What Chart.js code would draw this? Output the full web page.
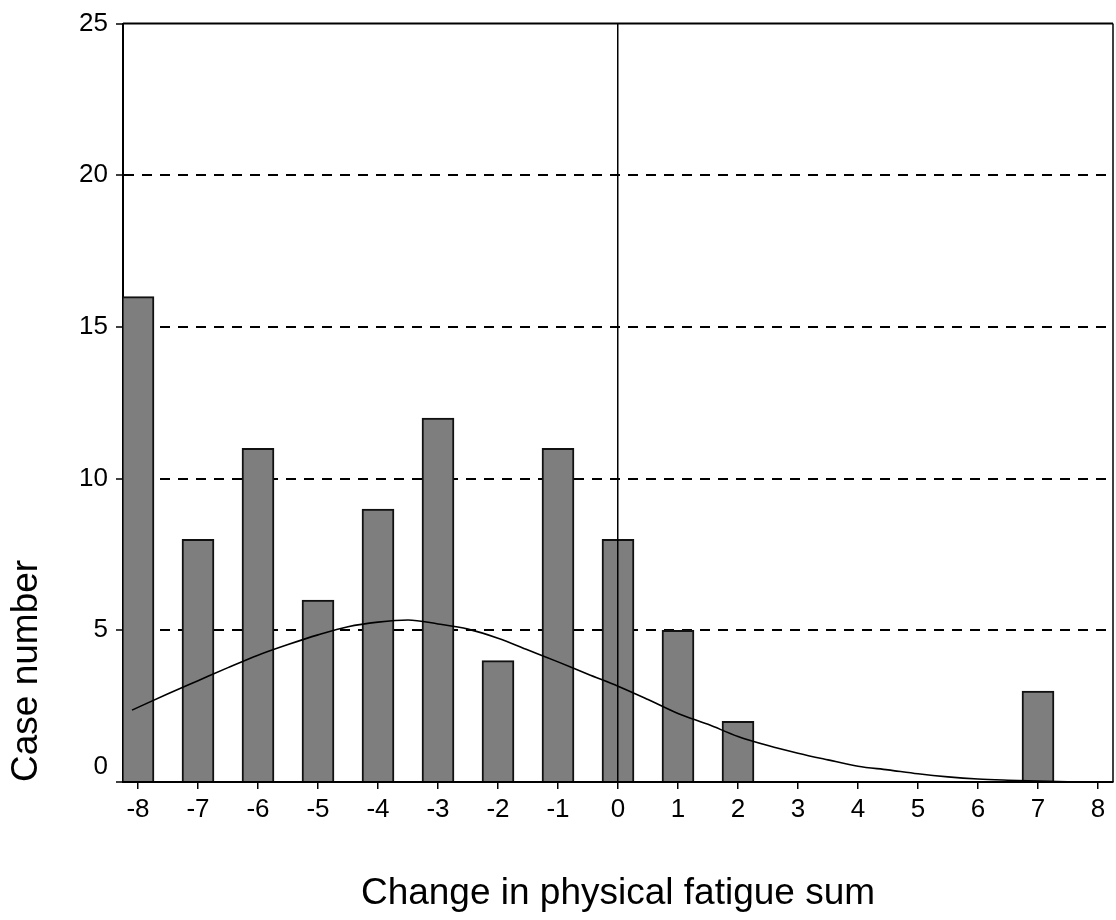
<!DOCTYPE html>
<html>
<head>
<meta charset="utf-8">
<title>Change in physical fatigue sum</title>
<script src="https://cdn.jsdelivr.net/npm/chart.js@4/dist/chart.umd.min.js"></script>
<style>
  html, body { margin: 0; padding: 0; background: #fff; }
  #wrap { width: 1116px; height: 920px; position: relative; }
</style>
</head>
<body>
<div id="wrap"><canvas id="chart"></canvas></div>
<script>
// Histogram: number of cases per change score
const CHANGE_VALUES = [-8, -7, -6, -5, -4, -3, -2, -1, 0, 1, 2, 3, 4, 5, 6, 7, 8];
const CASE_COUNTS   = [16, 8, 11, 6, 9, 12, 4, 11, 8, 5, 2, 0, 0, 0, 0, 3, 0];

// Fitted normal curve, sampled along the x axis
const CURVE_X = [-8.1, -7.5, -7, -6.5, -6, -5.5, -5, -4.5, -4, -3.5, -3, -2.5, -2, -1.5, -1, -0.5,
                 0, 0.5, 1, 1.5, 2, 2.5, 3, 3.5, 4, 4.5, 5, 5.5, 6, 6.5, 7, 7.5, 7.9];
const CURVE_Y = [2.37, 2.91, 3.34, 3.77, 4.18, 4.53, 4.85, 5.12, 5.27, 5.34, 5.21, 5.04, 4.74, 4.35, 3.96, 3.55,
                 3.16, 2.72, 2.26, 1.9, 1.5, 1.2, 0.95, 0.73, 0.52, 0.4, 0.27, 0.17, 0.1, 0.06, 0.03, 0.01, 0.0];

// Axis ticks and titles
const X_TICKS = [-8, -7, -6, -5, -4, -3, -2, -1, 0, 1, 2, 3, 4, 5, 6, 7, 8];
const Y_TICKS = [0, 5, 10, 15, 20, 25];
const X_TITLE = 'Change in physical fatigue sum';
const Y_TITLE = 'Case number';

const FONT = '"Liberation Sans", Arial, Helvetica, sans-serif';

// Solid frame along the top and right edges of the plot area
const framePlugin = {
  id: 'frame',
  afterDraw(chart) {
    const { ctx, chartArea: a } = chart;
    ctx.save();
    ctx.strokeStyle = '#000';
    ctx.lineWidth = 2;
    ctx.beginPath();
    ctx.moveTo(a.left, a.top);
    ctx.lineTo(a.right, a.top);
    ctx.stroke();
    ctx.lineWidth = 1.5;
    ctx.beginPath();
    ctx.moveTo(a.right, a.top);
    ctx.lineTo(a.right, a.bottom);
    ctx.stroke();
    ctx.restore();
  }
};

new Chart(document.getElementById('chart'), {
  type: 'bar',
  data: {
    datasets: [
      {
        type: 'line',
        data: CURVE_X.map((x, i) => ({ x, y: CURVE_Y[i] })),
        borderColor: '#000',
        borderWidth: 1.6,
        pointRadius: 0,
        fill: false,
        cubicInterpolationMode: 'monotone'
      },
      {
        type: 'bar',
        data: CHANGE_VALUES.map((x, i) => ({ x, y: CASE_COUNTS[i] })),
        backgroundColor: '#7e7e7e',
        borderColor: '#111',
        borderWidth: 2,
        barThickness: 32,
        borderSkipped: 'bottom'
      }
    ]
  },
  options: {
    responsive: true,
    maintainAspectRatio: false,
    animation: false,
    layout: { padding: { top: 22, right: 3, left: 0, bottom: 0 } },
    plugins: {
      legend: { display: false },
      tooltip: { enabled: false }
    },
    scales: {
      x: {
        type: 'linear',
        offset: false,
        min: -8.25,
        max: 8.25,
        afterBuildTicks(scale) { scale.ticks = X_TICKS.map(v => ({ value: v })); },
        afterFit(scale) { scale.height = 138; },
        ticks: {
          color: '#000',
          font: { family: FONT, size: 26 },
          padding: 5,
          maxRotation: 0,
          autoSkip: false,
          callback: v => String(v)
        },
        grid: {
          offset: false,
          z: 1,
          drawOnChartArea: true,
          // only the zero line is drawn across the plot
          color: c => (c.tick && c.tick.value === 0 ? '#000' : 'rgba(0,0,0,0)'),
          lineWidth: 1.5,
          tickColor: '#000',
          tickWidth: 1.5,
          tickLength: 7
        },
        border: { display: true, color: '#000', width: 2, z: 2 },
        title: {
          display: true,
          text: X_TITLE,
          color: '#000',
          font: { family: FONT, size: 37 },
          padding: 4
        }
      },
      y: {
        type: 'linear',
        min: 0,
        max: 25,
        afterBuildTicks(scale) { scale.ticks = Y_TICKS.map(v => ({ value: v })); },
        afterFit(scale) { scale.width = 123; },
        ticks: {
          color: '#000',
          font: { family: FONT, size: 26 },
          padding: 8,
          callback: v => (v === 0 ? ['0', ''] : String(v))
        },
        grid: {
          drawOnChartArea: true,
          color: c => (c.tick && (c.tick.value === 0 || c.tick.value === 25) ? 'rgba(0,0,0,0)' : '#000'),
          lineWidth: 2,
          tickColor: '#000',
          tickWidth: 1.5,
          tickLength: 7
        },
        border: { display: true, color: '#000', width: 2, dash: [10, 8] },
        title: {
          display: true,
          text: Y_TITLE,
          align: 'start',
          color: '#000',
          font: { family: FONT, size: 37 },
          padding: 5
        }
      }
    }
  },
  plugins: [framePlugin]
});
</script>
</body>
</html>
